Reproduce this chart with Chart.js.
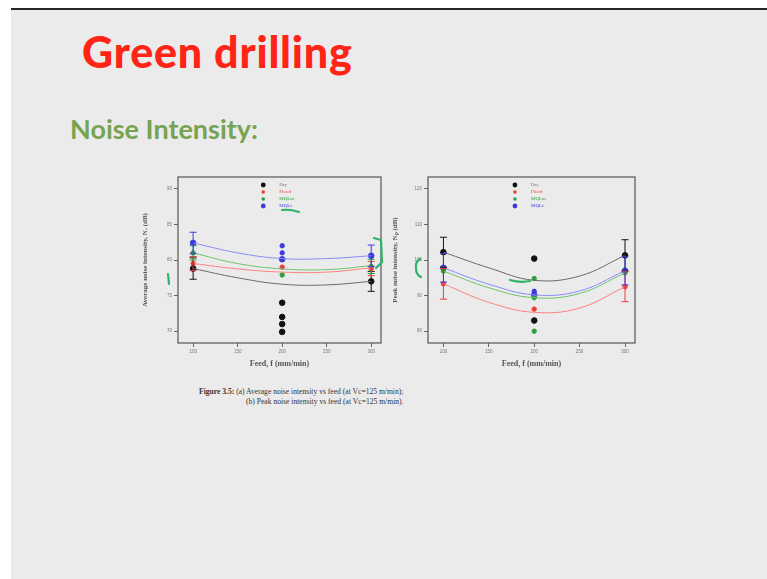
<!DOCTYPE html>
<html>
<head>
<meta charset="utf-8">
<script src="https://cdn.jsdelivr.net/npm/chart.js@4.4.1/dist/chart.umd.min.js"></script>
<style>
  html, body { margin: 0; padding: 0; background: #fff; }
  body { width: 767px; height: 579px; position: relative; overflow: hidden; }
  #slide { position: absolute; left: 11px; top: 8px; right: 0; bottom: 0;
           background: #ebebeb; border-top: 2px solid #262626; }
  #title { position: absolute; left: 82px; top: 30px; margin: 0;
           font: 900 43px Lato, sans-serif; line-height: 1; color: #ff2415; letter-spacing: 0.8px; }
  #sub { position: absolute; left: 70px; top: 115px; margin: 0;
         font: bold 27px Lato, sans-serif; line-height: 1; color: #78a351; }
  .cv { position: absolute; }
  #caption { position: absolute; left: 199px; top: 387px;
             font: 7.6px "Liberation Serif", serif; color: #333; line-height: 10px; }
  #caption b { font-weight: bold; }
  #pen { position: absolute; left: 0; top: 0; }
</style>
</head>
<body>
<div id="slide"></div>
<div id="title">Green drilling</div>
<div id="sub">Noise Intensity:</div>
<div class="cv" style="left:140px;top:172px;width:250px;height:199px"><canvas id="avgChart"></canvas></div>
<div class="cv" style="left:390px;top:172px;width:250px;height:199px"><canvas id="peakChart"></canvas></div>
<div id="caption"><b>Figure 3.5:</b> (a) Average noise intensity vs feed (at Vc=125 m/min);<br>
<span style="padding-left:47px">(b) Peak noise intensity vs feed (at Vc=125 m/min).</span></div>
<svg id="pen" width="767" height="579">
  <g fill="none" stroke="#2fb36a" stroke-width="2.2" stroke-linecap="round">
    <path d="M282 210 Q290 209 299 212"/>
    <path d="M168 274 L169 284"/>
    <path d="M374 238 L381 240 L382 262 L376 268"/>
    <path d="M420 259 Q415 262 416 268 Q416 275 421 277"/>
    <path d="M510 280 Q520 283 530 281"/>
  </g>
</svg>
<script>
// x values
const feedTicks = [100, 150, 200, 250, 300];
const feeds = [100, 200, 300];
const labels = ['Dry', 'Flood', 'MQLm', 'MQLc'];
const colors = ['#111111', '#ee3b3b', '#2f9e3f', '#3b3bdd'];
const fitColors = ['#6a6a6a', '#ff8080', '#6cc46c', '#8a8aff'];

// (a) average noise intensity, dB
const avgTicks = [70, 75, 80, 85, 90];
const avgDry = [78.8, 74.0, 77.0];
const avgFlood = [79.5, 79.0, 78.8];
const avgMQLm = [81.0, 77.9, 79.1];
const avgMQLc = [82.4, 80.1, 80.6];
const avgErr = [[1.5, 0, 1.4], [1.0, 0, 1.0], [1.0, 0, 1.0], [1.5, 0, 1.5]];
const avgExtraDry = [72.0, 71.0, 69.9];
const avgExtraMQLc = [82.0, 81.0];
// fitted curves read at feedTicks
const avgFitDry = [78.8, 77.5, 76.6, 76.5, 77.0];
const avgFitFlood = [79.5, 78.75, 78.3, 78.3, 78.9];
const avgFitMQLm = [81.0, 79.5, 78.75, 78.65, 79.2];
const avgFitMQLc = [82.4, 81.0, 80.2, 80.2, 80.6];

// (b) peak noise intensity, dB
const peakTicks = [80, 90, 100, 110, 120];
const peakDry = [102.2, 83.0, 101.3];
const peakFlood = [93.3, 86.2, 92.5];
const peakMQLm = [96.9, 89.4, 96.4];
const peakMQLc = [97.8, 90.2, 97.0];
const peakErr = [[4.2, 0, 4.4], [4.3, 0, 4.2], [0, 0, 0], [4.0, 0, 4.0]];
const peakExtraDry = [100.4];
const peakExtraMQLm = [94.8, 80.0];
const peakExtraMQLc = [91.2];
const peakFitDry = [102.2, 97.8, 94.3, 95.5, 101.3];
const peakFitFlood = [93.3, 88.1, 85.3, 86.5, 92.5];
const peakFitMQLm = [96.9, 92.2, 89.4, 90.6, 96.4];
const peakFitMQLc = [97.8, 93.2, 90.2, 91.3, 97.0];

const pts = (xs, ys) => ys.map((y, i) => ({ x: xs[i], y }));

function buildSets(series, errs, fits, extras) {
  const sets = [];
  fits.forEach((f, i) => sets.push({
    type: 'line', data: pts(feedTicks, f), borderColor: fitColors[i], borderWidth: 1,
    pointRadius: 0, tension: 0.4, fill: false
  }));
  series.forEach((s, i) => sets.push({
    type: 'scatter', label: labels[i], data: pts(feeds, s), errors: errs[i],
    backgroundColor: colors[i], borderColor: colors[i],
    pointRadius: i === 0 || i === 3 ? 2.8 : 2.2, legend: true
  }));
  extras.forEach(([ci, ys]) => sets.push({
    type: 'scatter', data: ys.map(y => ({ x: 200, y })),
    backgroundColor: colors[ci], borderColor: colors[ci], pointRadius: ci === 0 ? 2.8 : 2.2
  }));
  return sets;
}

const framePlugin = {
  id: 'frame',
  afterDatasetsDraw(chart) {
    const { ctx, chartArea: a, scales } = chart;
    ctx.save();
    // error bars
    chart.data.datasets.forEach(ds => {
      if (!ds.errors) return;
      ctx.strokeStyle = ds.borderColor;
      ctx.lineWidth = 1;
      ds.data.forEach((p, j) => {
        const e = ds.errors[j];
        if (!e) return;
        const x = scales.x.getPixelForValue(p.x);
        const y1 = scales.y.getPixelForValue(p.y + e);
        const y2 = scales.y.getPixelForValue(p.y - e);
        ctx.beginPath();
        ctx.moveTo(x, y1); ctx.lineTo(x, y2);
        ctx.moveTo(x - 3.5, y1); ctx.lineTo(x + 3.5, y1);
        ctx.moveTo(x - 3.5, y2); ctx.lineTo(x + 3.5, y2);
        ctx.stroke();
      });
    });
    // box
    ctx.strokeStyle = '#555';
    ctx.lineWidth = 1.2;
    ctx.strokeRect(a.left, a.top, a.right - a.left, a.bottom - a.top);
    // small legend
    const items = chart.data.datasets.filter(d => d.legend);
    const mx = a.left + (a.right - a.left) * 0.42;
    ctx.font = '5px "Liberation Serif", serif';
    ctx.textBaseline = 'middle';
    items.forEach((d, i) => {
      const y = a.top + 8 + i * 7;
      ctx.fillStyle = d.backgroundColor;
      ctx.beginPath();
      ctx.arc(mx, y, i === 0 || i === 3 ? 2.4 : 1.8, 0, Math.PI * 2);
      ctx.fill();
      ctx.fillStyle = i === 0 ? '#777' : d.backgroundColor;
      ctx.fillText(d.label, mx + 16, y);
    });
    ctx.restore();
  }
};

function makeChart(id, sets, ticks, yTitle, pad) {
  return new Chart(document.getElementById(id), {
    data: { datasets: sets },
    options: {
      responsive: true, maintainAspectRatio: false, animation: false,
      layout: { padding: pad },
      plugins: { legend: { display: false }, tooltip: { enabled: false } },
      scales: {
        x: {
          type: 'linear', min: 83, max: 311,
          afterBuildTicks: s => { s.ticks = feedTicks.map(v => ({ value: v })); },
          afterFit: s => { s.height = 28; },
          grid: { drawOnChartArea: false, drawTicks: true, tickLength: 4, color: '#666' },
          border: { display: false },
          ticks: { font: { size: 4.5 }, color: '#777', padding: 2, maxRotation: 0 },
          title: { display: true, text: 'Feed, f (mm/min)', color: '#555',
                   font: { size: 8, family: '"Liberation Serif", serif', weight: 'bold' }, padding: 2 }
        },
        y: {
          min: ticks[0] - (ticks[4] - ticks[0]) * 0.083, max: ticks[4] + (ticks[4] - ticks[0]) * 0.083,
          afterBuildTicks: s => { s.ticks = ticks.map(v => ({ value: v })); },
          afterFit: s => { s.width = 38; },
          grid: { drawOnChartArea: false, drawTicks: true, tickLength: 4, color: '#666' },
          border: { display: false },
          ticks: { font: { size: 4.5 }, color: '#777', padding: 2 },
          title: { display: true, text: yTitle, color: '#555',
                   font: { size: 7, family: '"Liberation Serif", serif', weight: 'bold' }, padding: 1 }
        }
      }
    },
    plugins: [framePlugin]
  });
}

makeChart('avgChart',
  buildSets([avgDry, avgFlood, avgMQLm, avgMQLc], avgErr,
            [avgFitDry, avgFitFlood, avgFitMQLm, avgFitMQLc],
            [[0, avgExtraDry], [3, avgExtraMQLc]]),
  avgTicks, 'Average noise intensity, Nₐ (dB)', { top: 5, right: 9, left: 0, bottom: 0 });

makeChart('peakChart',
  buildSets([peakDry, peakFlood, peakMQLm, peakMQLc], peakErr,
            [peakFitDry, peakFitFlood, peakFitMQLm, peakFitMQLc],
            [[0, peakExtraDry], [2, peakExtraMQLm], [3, peakExtraMQLc]]),
  peakTicks, 'Peak noise intensity, Nₚ (dB)', { top: 3, right: 3, left: 0, bottom: 0 });
</script>
</body>
</html>
